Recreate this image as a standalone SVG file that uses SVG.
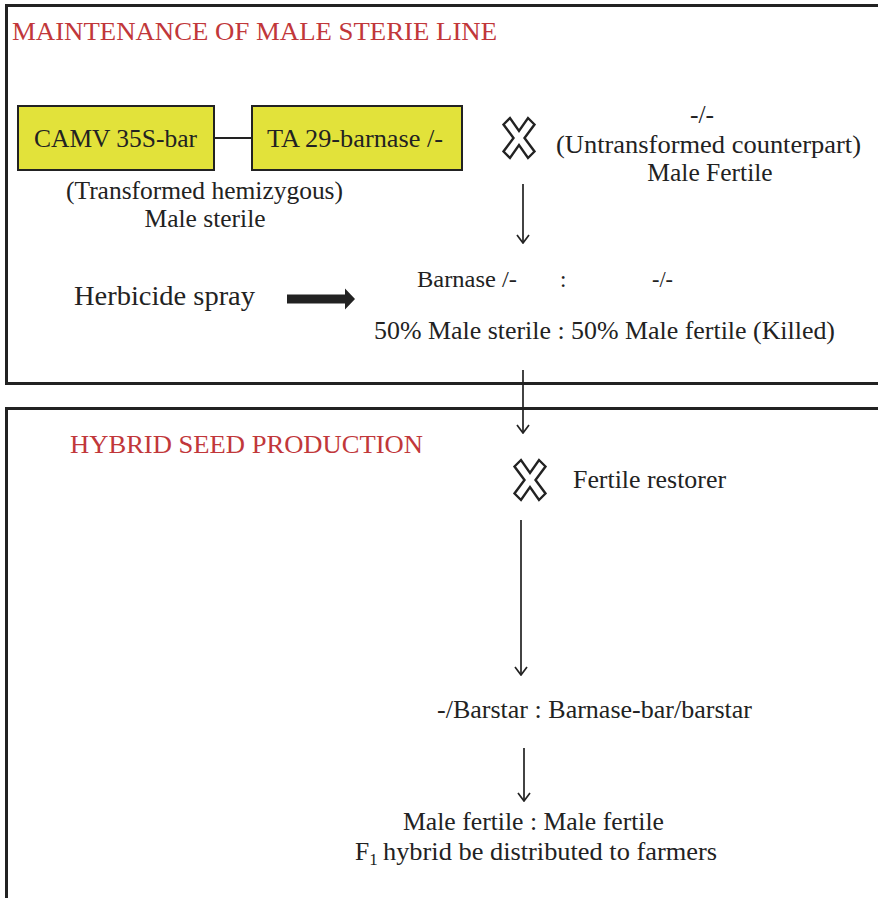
<svg xmlns="http://www.w3.org/2000/svg" width="878" height="898" viewBox="0 0 878 898">
<style>
.t{font-family:"Liberation Serif","Times New Roman",serif;fill:#222;font-size:25.5px}
.h{font-family:"Liberation Serif","Times New Roman",serif;fill:#c1373a;font-size:26px}
.frame{fill:none;stroke:#222;stroke-width:3}
.gene{fill:#e2e23a;stroke:#222;stroke-width:2}
.ln{stroke:#222;stroke-width:1.7;fill:none}
.cross{fill:#fff;stroke:#222;stroke-width:2.4;stroke-linejoin:miter}
</style>
<defs>
<marker id="ah" viewBox="0 0 10 14" refX="9" refY="7" markerWidth="10" markerHeight="14" markerUnits="userSpaceOnUse" orient="auto">
<path d="M1,1 L9,7 L1,13" fill="none" stroke="#222" stroke-width="1.7"/>
</marker>
<path id="x" d="M-15.5,-13.5 L-9,-20 L0,-7 L9,-20 L15.5,-13.5 L5.5,0 L15.5,13.5 L9,20 L0,7 L-9,20 L-15.5,13.5 L-5.5,0 Z"/>
</defs>
<g id="box-maintenance">
<rect class="frame" x="6.5" y="5.5" width="880" height="378"/>
<text class="h" x="12" y="40" textLength="485" lengthAdjust="spacingAndGlyphs">MAINTENANCE OF MALE STERIE LINE</text>
</g>
<g id="box-hybrid">
<rect class="frame" x="6.5" y="408.5" width="880" height="500"/>
<text class="h" x="70" y="453" textLength="353" lengthAdjust="spacingAndGlyphs">HYBRID SEED PRODUCTION</text>
</g>
<g id="node-camv">
<rect class="gene" x="18" y="106" width="196" height="64"/>
<text class="t" x="34" y="147" textLength="163" lengthAdjust="spacingAndGlyphs">CAMV 35S-bar</text>
</g>
<g id="node-ta29">
<rect class="gene" x="252" y="106" width="210" height="64"/>
<text class="t" x="267" y="147" textLength="176" lengthAdjust="spacingAndGlyphs">TA 29-barnase /-</text>
</g>
<g id="label-transformed">
<text class="t" x="66" y="199" textLength="277" lengthAdjust="spacingAndGlyphs">(Transformed hemizygous)</text>
<text class="t" x="205" y="227" text-anchor="middle">Male sterile</text>
</g>
<g id="cross-1"><use href="#x" class="cross" x="519" y="138"/></g>
<g id="label-untransformed">
<text class="t" x="702" y="123" text-anchor="middle">-/-</text>
<text class="t" x="556" y="153" textLength="305" lengthAdjust="spacingAndGlyphs">(Untransformed counterpart)</text>
<text class="t" x="710" y="181" text-anchor="middle">Male Fertile</text>
</g>
<g id="label-herbicide">
<text class="t" x="74" y="305" style="font-size:27px" textLength="181" lengthAdjust="spacingAndGlyphs">Herbicide spray</text>
</g>
<g id="label-progeny1">
<text class="t" x="417" y="287" style="font-size:23px" textLength="100" lengthAdjust="spacingAndGlyphs">Barnase /-</text>
<text class="t" x="560" y="287" style="font-size:23px">:</text>
<text class="t" x="652" y="287" style="font-size:23px" textLength="21" lengthAdjust="spacingAndGlyphs">-/-</text>
<text class="t" x="374" y="339" style="font-size:25px" textLength="461" lengthAdjust="spacingAndGlyphs">50% Male sterile :  50% Male fertile (Killed)</text>
</g>
<g id="cross-2"><use href="#x" class="cross" x="530" y="480"/></g>
<g id="label-restorer">
<text class="t" x="573" y="488" textLength="153" lengthAdjust="spacingAndGlyphs">Fertile restorer</text>
</g>
<g id="label-progeny2">
<text class="t" x="437" y="718" textLength="315" lengthAdjust="spacingAndGlyphs">-/Barstar : Barnase-bar/barstar</text>
</g>
<g id="label-f1">
<text class="t" x="403" y="830" textLength="261" lengthAdjust="spacingAndGlyphs">Male fertile : Male fertile</text>
<text class="t" x="355" y="860">F<tspan dy="5" style="font-size:17px">1</tspan><tspan dy="-5" x="383" textLength="334" lengthAdjust="spacingAndGlyphs">hybrid be distributed to farmers</tspan></text>
</g>
<g id="connectors">
<line class="ln" x1="214" y1="138" x2="252" y2="138" style="stroke-width:2"/>
<line class="ln" x1="523" y1="184" x2="523" y2="243" marker-end="url(#ah)"/>
<line class="ln" x1="523" y1="370" x2="523" y2="433" marker-end="url(#ah)"/>
<line class="ln" x1="521" y1="520" x2="521" y2="675" marker-end="url(#ah)"/>
<line class="ln" x1="524" y1="748" x2="524" y2="801" marker-end="url(#ah)"/>
<path d="M287,294.5 L345,294.5 L345,288.5 L355,299 L345,309.5 L345,303.5 L287,303.5 Z" fill="#222"/>
</g>
</svg>
